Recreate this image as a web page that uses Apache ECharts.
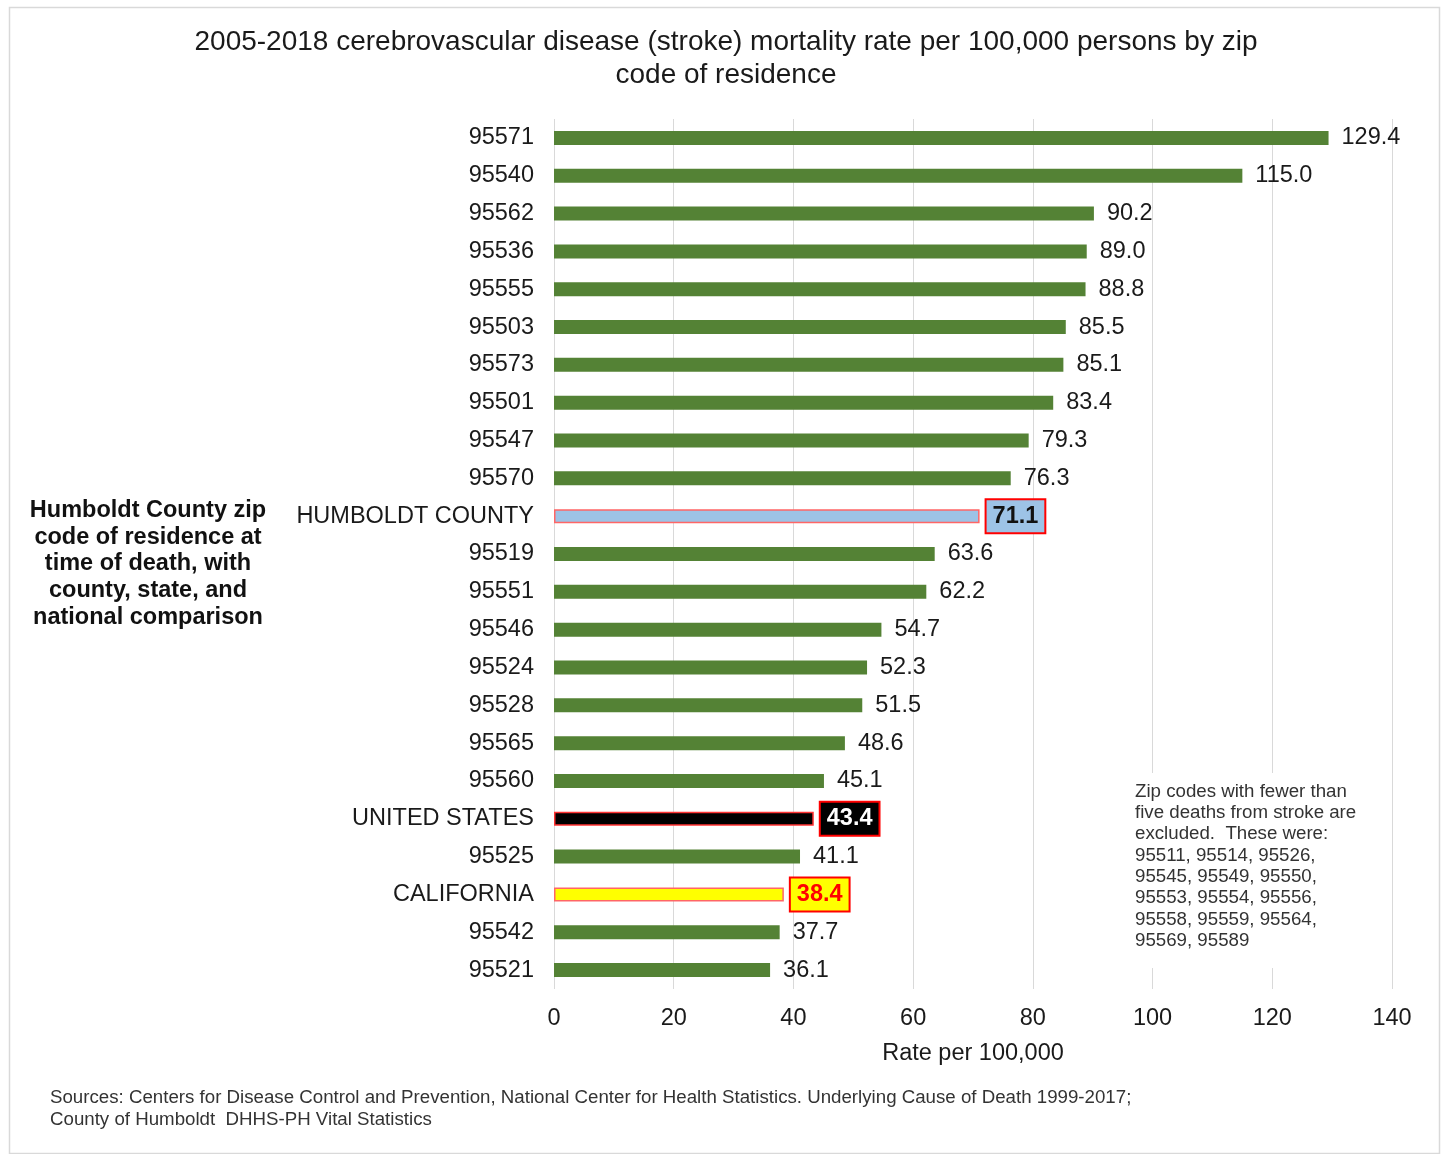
<!DOCTYPE html>
<html><head><meta charset="utf-8">
<script src="https://cdn.jsdelivr.net/npm/echarts@6/dist/echarts.min.js"></script>
<style>html,body{margin:0;padding:0;background:#fff}#c{width:1442px;height:1154px}</style>
</head><body><div id="c"></div>
<script>
const categories = ["95571","95540","95562","95536","95555","95503","95573","95501","95547","95570","HUMBOLDT COUNTY","95519","95551","95546","95524","95528","95565","95560","UNITED STATES","95525","CALIFORNIA","95542","95521"];
const values = [129.4,115.0,90.2,89.0,88.8,85.5,85.1,83.4,79.3,76.3,71.1,63.6,62.2,54.7,52.3,51.5,48.6,45.1,43.4,41.1,38.4,37.7,36.1];
const xTicks = [0,20,40,60,80,100,120,140];
const titleText = "2005-2018 cerebrovascular disease (stroke) mortality rate per 100,000 persons by zip\ncode of residence";
const sideText = "Humboldt County zip\ncode of residence at\ntime of death, with\ncounty, state, and\nnational comparison";
const noteText = "Zip codes with fewer than\nfive deaths from stroke are\nexcluded.  These were:\n95511, 95514, 95526,\n95545, 95549, 95550,\n95553, 95554, 95556,\n95558, 95559, 95564,\n95569, 95589";
const sourceText = "Sources: Centers for Disease Control and Prevention, National Center for Health Statistics. Underlying Cause of Death 1999-2017;\nCounty of Humboldt  DHHS-PH Vital Statistics";

const special = {
  "HUMBOLDT COUNTY": {bar:'#9DC3E6', border:'#FF6666', lbg:'#9DC3E6', lc:'#111'},
  "UNITED STATES": {bar:'#000000', border:'#FF3333', lbg:'#000000', lc:'#ffffff'},
  "CALIFORNIA": {bar:'#FFFF00', border:'#FF6666', lbg:'#FFFF00', lc:'#FF0000'}
};
const FONT = 'Liberation Sans, Arial, sans-serif';
const FS = 23.5;
const data = values.map((v,i)=>{
  const s = special[categories[i]];
  if(!s) return {value:v};
  return {value:v, itemStyle:{color:s.bar, borderColor:s.border, borderWidth:1.5},
    label:{backgroundColor:s.lbg, borderColor:'#FF0000', borderWidth:2, color:s.lc, fontWeight:'bold', padding:[6,6,2,6], distance:7}};
});
const chart = echarts.init(document.getElementById('c'));
chart.setOption({
  animation:false,
  backgroundColor:'#fff',
  title:{text:titleText, left:721, top:21, textAlign:'center', textStyle:{fontFamily:FONT, fontSize:28, fontWeight:'normal', color:'#1a1a1a', lineHeight:33}},
  grid:{left:554, right:50, top:119, bottom:165, containLabel:false},
  xAxis:{type:'value', min:0, max:140, interval:20, position:'bottom',
    name:'Rate per 100,000', nameLocation:'middle', nameGap:53,
    nameTextStyle:{fontFamily:FONT, fontSize:FS, color:'#1a1a1a'},
    axisLine:{show:false}, axisTick:{show:false},
    axisLabel:{fontFamily:FONT, fontSize:FS, color:'#1a1a1a', margin:18, formatter:v=>xTicks.includes(v)?String(v):''},
    splitLine:{show:true, lineStyle:{color:'#d9d9d9', width:1}}},
  yAxis:{type:'category', data:categories, inverse:true,
    axisLine:{show:false}, axisTick:{show:false},
    axisLabel:{fontFamily:FONT, fontSize:FS, color:'#1a1a1a', margin:20, padding:[4,0,0,0]}},
  series:[{type:'bar', data:data, barWidth:14, itemStyle:{color:'#548235'},
    label:{show:true, position:'right', distance:13, fontFamily:FONT, fontSize:FS, color:'#1a1a1a', padding:[4,0,0,0], formatter:p=>p.value.toFixed(1)}}],
  graphic:[
    {type:'rect', left:7, top:5, shape:{width:1430, height:1146}, style:{fill:null, stroke:'#d9d9d9', lineWidth:1.5}, silent:true},
    {type:'text', x:148, y:497, style:{text:sideText, fontFamily:FONT, fontSize:FS, fontWeight:'bold', fill:'#111', lineHeight:26.8, align:'center', textAlign:'center'}},
    {type:'rect', x:1127, y:773, shape:{width:240, height:195}, style:{fill:'#ffffff', stroke:null}, z:100},
    {type:'text', x:1135, y:781, z:101, style:{text:noteText, fontFamily:FONT, fontSize:18.7, fill:'#333', lineHeight:21.3}},
    {type:'text', x:50, y:1087, style:{text:sourceText, fontFamily:FONT, fontSize:18.7, fill:'#333', lineHeight:22}}
  ]
});
</script></body></html>
